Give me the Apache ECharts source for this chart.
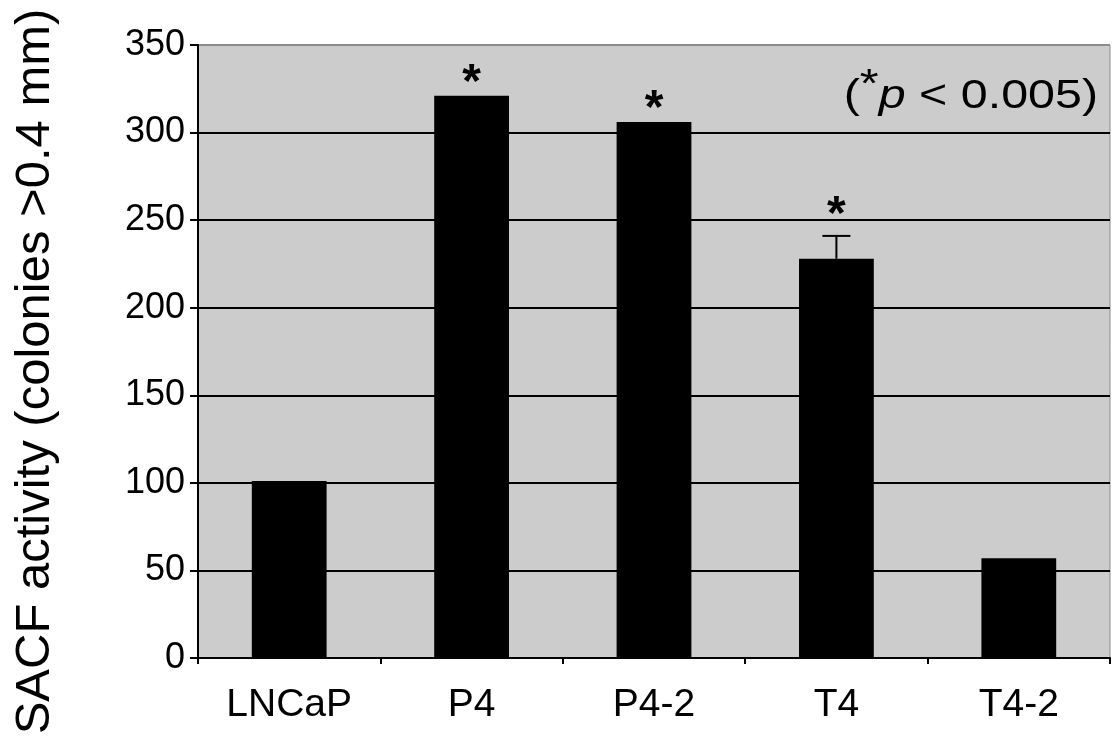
<!DOCTYPE html>
<html><head><meta charset="utf-8">
<script src="https://cdn.jsdelivr.net/npm/echarts@6/dist/echarts.min.js"></script>
<style>html,body{margin:0;padding:0;background:#fff}#c{width:1120px;height:744px}</style>
</head><body><div id="c"></div>
<script>
const categories = ['LNCaP', 'P4', 'P4-2', 'T4', 'T4-2'];
const values = [101, 321, 306, 228, 57];
const errorTop = [null, null, null, 241, null];
const significant = [false, true, true, true, false];
const yTicks = [0, 50, 100, 150, 200, 250, 300, 350];
const yName = 'SACF activity (colonies >0.4 mm)';

const FONT = '"Liberation Sans", Arial, sans-serif';
const chart = echarts.init(document.getElementById('c'));
chart.setOption({
  animation: false,
  grid: { left: 198, right: 10, top: 45, bottom: 86, containLabel: false, outerBoundsMode: 'none', show: true, backgroundColor: '#cccccc', borderColor: '#8c8c8c', borderWidth: 1 },
  xAxis: {
    type: 'category', data: categories,
    axisLine: { lineStyle: { color: '#000', width: 2 } },
    axisTick: { show: true, length: 6, lineStyle: { color: '#000', width: 2 } },
    axisLabel: { color: '#000', fontSize: 39, fontFamily: FONT, margin: 28 }
  },
  yAxis: {
    type: 'value', min: yTicks[0], max: yTicks[yTicks.length - 1], interval: 50,
    name: yName, nameLocation: 'middle', nameGap: 138, nameRotate: 90,
    nameTextStyle: { color: '#000', fontSize: 49, fontFamily: FONT, padding: [0, 40, 0, 0] },
    axisLine: { show: true, lineStyle: { color: '#000', width: 2 } },
    axisTick: { show: true, length: 8, lineStyle: { color: '#000', width: 2 } },
    axisLabel: { color: '#000', fontSize: 36, fontFamily: FONT, margin: 13 },
    splitLine: { show: true, lineStyle: { color: ['#000','#000','#000','#000','#000','#000','#000','#8c8c8c'], width: 2 } }
  },
  series: [
    {
      type: 'bar', data: values, barWidth: '41%',
      itemStyle: { color: '#000' }, z: 2
    },
    {
      type: 'custom', z: 3,
      data: categories.map((c, i) => [i, values[i]]),
      renderItem: function (params, api) {
        const i = api.value(0);
        const v = api.value(1);
        const e = errorTop[i];
        const children = [];
        const base = api.coord([i, v]);
        let topY = base[1] + 12;
        if (e != null) {
          const pe = api.coord([i, e]);
          children.push({ type: 'line', shape: { x1: base[0], y1: base[1], x2: pe[0], y2: pe[1] }, style: { stroke: '#000', lineWidth: 2 } });
          children.push({ type: 'line', shape: { x1: pe[0] - 14, y1: pe[1], x2: pe[0] + 14, y2: pe[1] }, style: { stroke: '#000', lineWidth: 2 } });
          topY = pe[1] + 4;
        }
        if (significant[i]) {
          children.push({ type: 'text', style: { text: '*', x: base[0], y: topY, align: 'center', verticalAlign: 'bottom', fontSize: 48, fontWeight: 'bold', fontFamily: FONT, fill: '#000' } });
        }
        return { type: 'group', children: children };
      }
    }
  ],
  graphic: [{
    type: 'text', x: 1098, y: 66, scaleX: 1.21,
    style: {
      text: '{a|(}{s|*}{i|p}{a| < 0.005)}',
      align: 'right', verticalAlign: 'top',
      rich: {
        a: { fontSize: 40, fontFamily: FONT, fill: '#000', verticalAlign: 'bottom' },
        s: { fontSize: 40, fontFamily: FONT, fill: '#000', verticalAlign: 'bottom', padding: [0, 0, 11, 0] },
        i: { fontSize: 40, fontFamily: FONT, fill: '#000', fontStyle: 'italic', verticalAlign: 'bottom' }
      }
    }
  }]
});
</script></body></html>
